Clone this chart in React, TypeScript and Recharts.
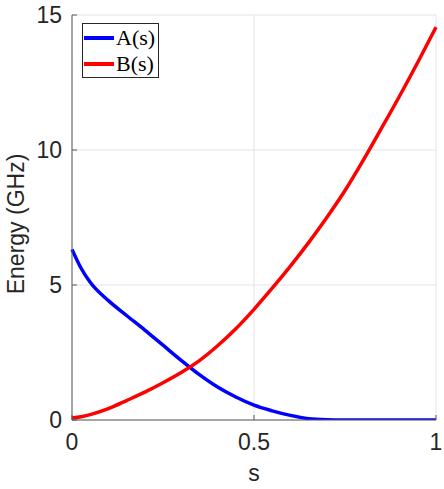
import React from 'react';
import { LineChart, Line, XAxis, YAxis, CartesianGrid } from 'recharts';

// annealing parameter s and the two schedule curves (GHz)
const sValues = [0, 0.025, 0.05, 0.1, 0.15, 0.2, 0.25, 0.3, 0.35, 0.4, 0.45, 0.5, 0.55, 0.6, 0.65, 0.7, 0.75, 0.8, 0.85, 0.9, 0.95, 1];
const aValues = [6.32, 5.62, 5.1, 4.42, 3.87, 3.33, 2.77, 2.21, 1.68, 1.22, 0.85, 0.55, 0.34, 0.17, 0.05, 0.01, 0, 0, 0, 0, 0, 0];
const bValues = [0.07, 0.12, 0.2, 0.42, 0.72, 1.03, 1.38, 1.76, 2.2, 2.75, 3.38, 4.1, 4.88, 5.7, 6.57, 7.5, 8.5, 9.62, 10.8, 12.0, 13.25, 14.55];

const xTicks = [0, 0.5, 1];
const yTicks = [0, 5, 10, 15];

const seriesList = [
  { key: 'A', name: 'A(s)', color: '#0000ff' },
  { key: 'B', name: 'B(s)', color: '#ff0000' },
];

const data = sValues.map((s, i) => ({ s, A: aValues[i], B: bValues[i] }));

const TEXT = '#262626';
const AXIS = '#5a5a5a';
const FONT = '"Liberation Sans", Arial, Helvetica, sans-serif';

const YTick = (props: any) => {
  const { x, y, payload } = props;
  return (
    <g>
      <line x1={x + 10} x2={x + 15} y1={y} y2={y} stroke={AXIS} strokeWidth={1} />
      <text x={x} y={y} dy="0.36em" textAnchor="end" fill={TEXT} fontSize={23} fontFamily={FONT}>
        {payload.value}
      </text>
    </g>
  );
};

const XTick = (props: any) => {
  const { x, y, payload } = props;
  return (
    <g>
      <line x1={x} x2={x} y1={y - 14} y2={y - 19} stroke={AXIS} strokeWidth={1} />
      <text x={x} y={y} dy="0.71em" textAnchor="middle" fill={TEXT} fontSize={23} fontFamily={FONT}>
        {payload.value}
      </text>
    </g>
  );
};

// MATLAB-style boxed legend in the upper left corner
const ChartLegend = () => (
  <div
    style={{
      position: 'absolute',
      left: 82,
      top: 23,
      border: '1px solid #262626',
      background: '#fff',
      width: 75,
      height: 53,
      boxSizing: 'content-box',
      fontFamily: '"Liberation Serif", "DejaVu Serif", serif',
      fontSize: 22,
      color: '#000',
    }}
  >
    {seriesList.map((item, i) => (
      <div key={item.key} style={{ display: 'flex', alignItems: 'center', height: 26, marginTop: i === 0 ? 1 : 0 }}>
        <div style={{ width: 30, height: 4, background: item.color, marginLeft: 1, marginRight: 2 }} />
        <span style={{ lineHeight: '26px' }}>{item.name}</span>
      </div>
    ))}
  </div>
);

export default function App() {
  return (
    <div style={{ position: 'absolute', left: 0, top: 0, width: 444, height: 489, background: '#fff' }}>
      <LineChart width={444} height={489} data={data} margin={{ top: 15, right: 8, left: 0, bottom: 0 }}>
        <CartesianGrid stroke="#e3e3e3" strokeWidth={1} />
        <XAxis
          dataKey="s"
          type="number"
          domain={[0, 1]}
          ticks={xTicks}
          height={69}
          tickSize={0}
          tickMargin={14}
          tick={<XTick />}
          stroke={AXIS}
          label={(p: any) => {
            const vb = p.viewBox;
            return (
              <text x={vb.x + vb.width / 2} y={481} textAnchor="middle" fill={TEXT} fontSize={23} fontFamily={FONT}>
                s
              </text>
            );
          }}
        />
        <YAxis
          type="number"
          domain={[0, 15]}
          ticks={yTicks}
          width={72}
          tickSize={0}
          tickMargin={10}
          tick={<YTick />}
          stroke={AXIS}
          allowDataOverflow
          label={() => (
            <text
              x={24}
              y={224}
              transform="rotate(-90 24 224)"
              textAnchor="middle"
              fill={TEXT}
              fontSize={23}
              fontFamily={FONT}
            >
              Energy (GHz)
            </text>
          )}
        />
        {seriesList.map((item) => (
          <Line
            key={item.key}
            type="monotone"
            dataKey={item.key}
            name={item.name}
            stroke={item.color}
            strokeWidth={3.5}
            dot={false}
            isAnimationActive={false}
          />
        ))}
      </LineChart>
      <ChartLegend />
    </div>
  );
}
